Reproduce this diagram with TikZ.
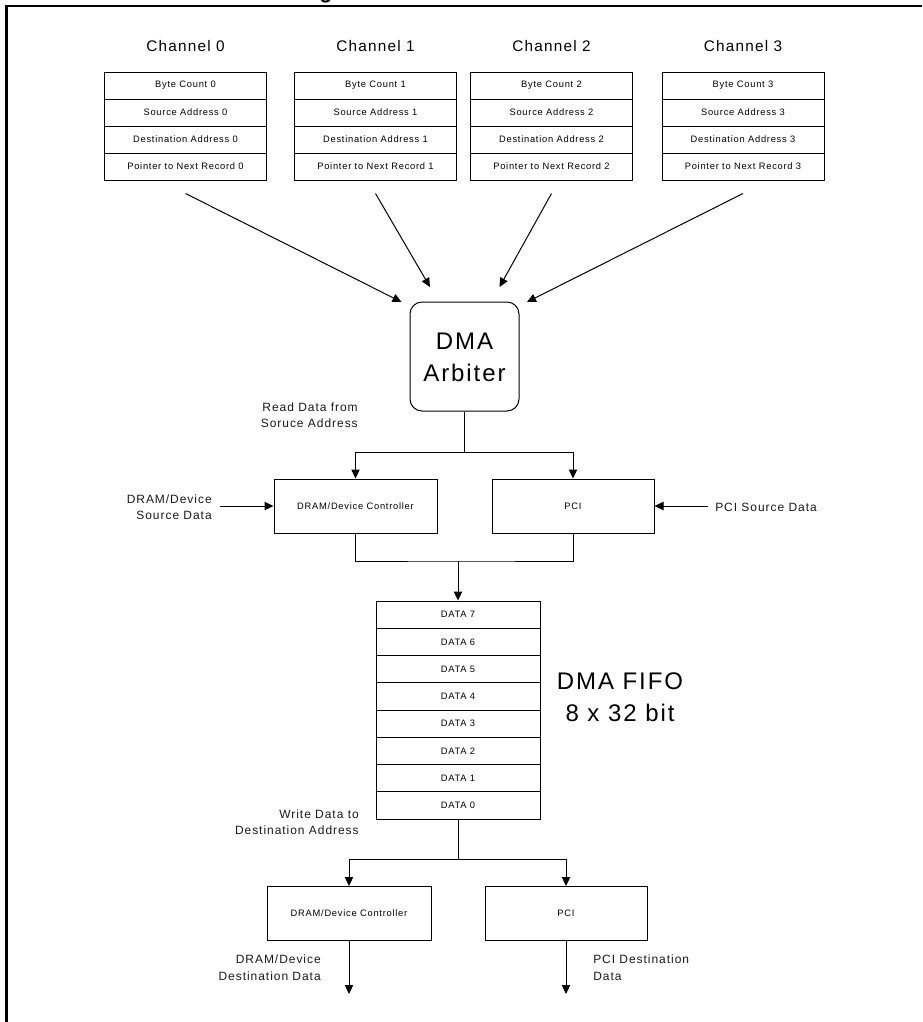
\documentclass[tikz,border=0pt]{standalone}
\usepackage{fontspec}
\setmainfont{Liberation Sans}
\newfontfamily\spaced{Liberation Sans}[LetterSpace=8]
\usetikzlibrary{arrows.meta}

\tikzset{
  wire/.style={line width=0.75pt, draw=black},
  flow/.style={wire, -{Triangle[length=6.75pt,width=6.25pt]}},
  cell/.style={draw, line width=0.75pt, inner sep=0pt, text=black,
    minimum width=121.5pt, minimum height=20.25pt,
    font={\spaced\fontsize{7}{8}\selectfont}},
  fifocell/.style={cell, minimum width=123pt, minimum height=20.44pt},
  unit/.style={cell, minimum height=40.5pt},
  label/.style={inner sep=0pt, text=black!90,
    font={\spaced\fontsize{9}{12.4}\selectfont}},
  heading/.style={inner sep=0pt, text=black,
    font={\spaced\fontsize{11.5}{13}\selectfont}},
  big/.style={inner sep=0pt, text=black, align=center,
    font={\spaced\fontsize{18}{24}\selectfont}},
}

\begin{document}
\begin{tikzpicture}[x=0.75pt, y=-0.75pt]
\useasboundingbox (0,0) rectangle (922,1022);

% page frame and the clipped caption above it
\begin{scope}
  \clip (0,0) rectangle (922,5);
  \node[inner sep=0pt, anchor=base, font={\bfseries\fontsize{16}{16}\selectfont}] (caption) at (326,-1.5) {g};
\end{scope}
\draw[line width=2pt] (6.5,1022) -- (6.5,6) -- (922,6);

% the four channel descriptor records
\foreach \c/\cx in {0/185.5, 1/375.5, 2/551.5, 3/743} {
  \node[heading] (ch\c) at (\cx,46) {Channel \c};
  \node[cell] (c\c r0) at (\cx,85.5)  {Byte Count \c};
  \node[cell] (c\c r1) at (\cx,112.5) {Source Address \c};
  \node[cell] (c\c r2) at (\cx,139.5) {Destination Address \c};
  \node[cell] (c\c r3) at (\cx,166.5) {Pointer to Next Record \c};
}

% arbiter
\node[draw, line width=0.75pt, rounded corners=9pt, minimum width=81.75pt,
  minimum height=81.75pt, inner sep=0pt] (arb) at (464.5,356.5) {};
\node[big] (arbtext) at (464.5,357) {DMA\\Arbiter};

\coordinate (t0) at (401.5,302);
\coordinate (t1) at (430,287);
\coordinate (t2) at (499.5,287);
\coordinate (t3) at (527,302);
\foreach \c in {0,1,2,3}
  \draw[flow] ([yshift=-9.75pt]c\c r3.south) -- (t\c);

% source side
\node[unit, minimum width=122.25pt] (dram1) at (355.5,506) {DRAM/Device Controller};
\node[unit] (pci1) at (573,506) {PCI};

\node[label, anchor=east, align=right] (readlbl) at (358,415) {Read Data from\\Soruce Address};
\coordinate (split1) at (464.5,452);
\draw[wire] (arb.south) -- (split1);
\draw[flow] (split1) -| (dram1.north);
\draw[flow] (split1) -| (pci1.north);

\node[label, anchor=east, align=right] (dsrc) at (212,507) {DRAM/Device\\Source Data};
\coordinate (in1) at (220,506);
\draw[flow] (in1) -- (dram1.west);

\node[label, anchor=west] (psrc) at (715,507) {PCI Source Data};
\coordinate (in2) at (708,506);
\draw[flow] (in2) -- (pci1.east);

% FIFO
\foreach \k in {0,...,7}
  \node[fifocell] (fifo\k) at (458,{601+27.25*(7-\k)+13.625}) {DATA \k};
\node[big] (fifolbl) at (620,697) {DMA FIFO\\8 x 32 bit};

\coordinate (merge1) at (458,561);
\draw[wire] (dram1.south) |- (merge1) -| (pci1.south);
\draw[flow] (merge1) -- (fifo7.north);

% destination side
\node[unit, minimum width=123pt] (dram2) at (349,913.5) {DRAM/Device Controller};
\node[unit] (pci2) at (566,913.5) {PCI};

\node[label, anchor=east, align=right] (writelbl) at (359,822) {Write Data to\\Destination Address};
\coordinate (split2) at (458,859);
\draw[wire] (fifo0.south) -- (split2);
\draw[flow] (split2) -| (dram2.north);
\draw[flow] (split2) -| (pci2.north);

\coordinate (out1) at (349,994);
\coordinate (out2) at (566,994);
\draw[flow] (dram2.south) -- (out1);
\draw[flow] (pci2.south) -- (out2);

\node[label, anchor=east, align=right] (ddst) at (321,967.5) {DRAM/Device\\Destination Data};
\node[label, anchor=west, align=left] (pdst) at (593,967.5) {PCI Destination\\Data};
\end{tikzpicture}
\end{document}
